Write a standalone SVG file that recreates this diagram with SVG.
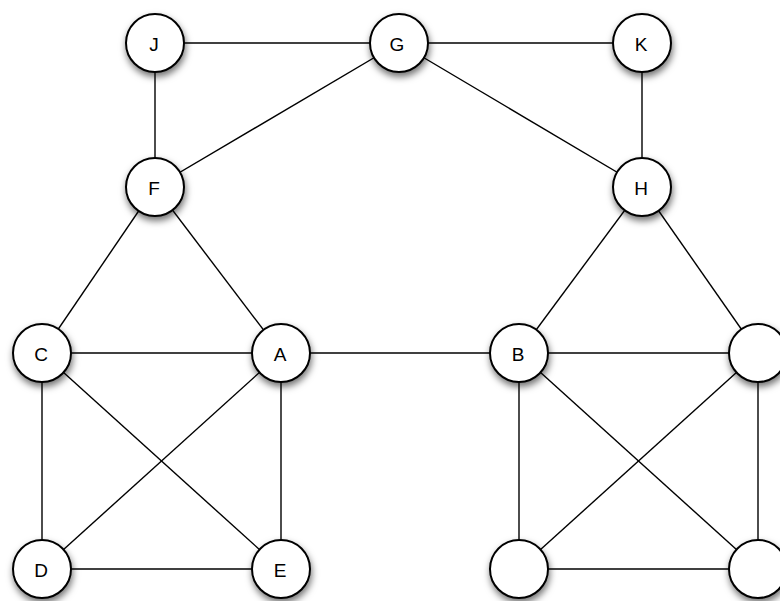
<svg xmlns="http://www.w3.org/2000/svg" width="780" height="601" viewBox="0 0 780 601">
<defs>
<filter id="sh" x="-50%" y="-50%" width="200%" height="200%">
<feDropShadow dx="1" dy="4" stdDeviation="3.5" flood-color="#000" flood-opacity="0.55"/>
</filter>
<style>
.n circle{fill:#fff;stroke:#000;stroke-width:2;}
.n text{font-family:"Liberation Sans",Arial,sans-serif;font-size:19px;fill:#000;text-anchor:middle;dominant-baseline:central;}
#edges line{stroke:#000;stroke-width:1.4;}
</style>
</defs>
<rect width="780" height="601" fill="#fff"/>
<g id="edges">
<line x1="155" y1="43" x2="399" y2="43"/>
<line x1="399" y1="43" x2="642" y2="43"/>
<line x1="155" y1="43" x2="155" y2="187"/>
<line x1="399" y1="43" x2="155" y2="187"/>
<line x1="399" y1="43" x2="642" y2="187"/>
<line x1="642" y1="43" x2="642" y2="187"/>
<line x1="155" y1="187" x2="42" y2="353"/>
<line x1="155" y1="187" x2="281" y2="353"/>
<line x1="642" y1="187" x2="519" y2="353"/>
<line x1="642" y1="187" x2="758" y2="353"/>
<line x1="42" y1="353" x2="281" y2="353"/>
<line x1="281" y1="353" x2="519" y2="353"/>
<line x1="519" y1="353" x2="758" y2="353"/>
<line x1="42" y1="353" x2="42" y2="569"/>
<line x1="42" y1="353" x2="281" y2="569"/>
<line x1="281" y1="353" x2="42" y2="569"/>
<line x1="281" y1="353" x2="281" y2="569"/>
<line x1="42" y1="569" x2="281" y2="569"/>
<line x1="519" y1="353" x2="519" y2="569"/>
<line x1="519" y1="353" x2="758" y2="569"/>
<line x1="758" y1="353" x2="519" y2="569"/>
<line x1="758" y1="353" x2="758" y2="569"/>
<line x1="519" y1="569" x2="758" y2="569"/>
</g>
<g id="J" class="n"><circle cx="155" cy="43" r="29" filter="url(#sh)"/><text x="154" y="44">J</text></g>
<g id="G" class="n"><circle cx="399" cy="43" r="29" filter="url(#sh)"/><text x="397" y="44">G</text></g>
<g id="K" class="n"><circle cx="642" cy="43" r="29" filter="url(#sh)"/><text x="641" y="44">K</text></g>
<g id="F" class="n"><circle cx="155" cy="187" r="29" filter="url(#sh)"/><text x="154" y="188">F</text></g>
<g id="H" class="n"><circle cx="642" cy="187" r="29" filter="url(#sh)"/><text x="641" y="188">H</text></g>
<g id="C" class="n"><circle cx="42" cy="353" r="29" filter="url(#sh)"/><text x="41" y="354">C</text></g>
<g id="A" class="n"><circle cx="281" cy="353" r="29" filter="url(#sh)"/><text x="280" y="354">A</text></g>
<g id="B" class="n"><circle cx="519" cy="353" r="29" filter="url(#sh)"/><text x="518" y="354">B</text></g>
<g id="R" class="n"><circle cx="758" cy="353" r="29" filter="url(#sh)"/></g>
<g id="D" class="n"><circle cx="42" cy="569" r="29" filter="url(#sh)"/><text x="41" y="570">D</text></g>
<g id="E" class="n"><circle cx="281" cy="569" r="29" filter="url(#sh)"/><text x="280" y="570">E</text></g>
<g id="BB" class="n"><circle cx="519" cy="569" r="29" filter="url(#sh)"/></g>
<g id="BR" class="n"><circle cx="758" cy="569" r="29" filter="url(#sh)"/></g>
</svg>
